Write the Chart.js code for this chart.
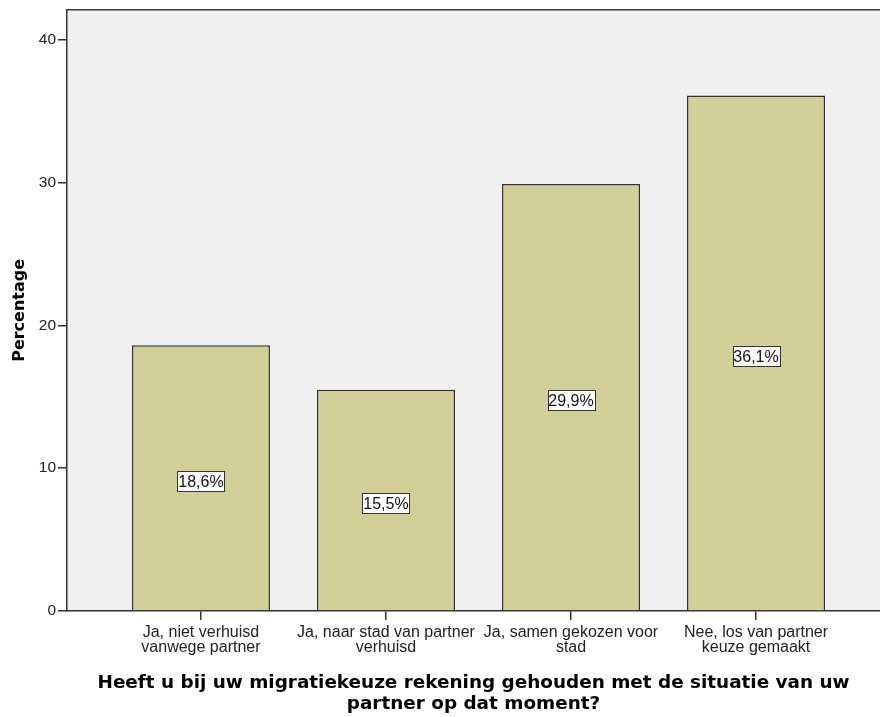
<!DOCTYPE html>
<html>
<head>
<meta charset="utf-8">
<script src="https://cdn.jsdelivr.net/npm/chart.js@4/dist/chart.umd.min.js"></script>
<style>
  html, body { margin: 0; padding: 0; background: #fff; }
  #wrap { width: 880px; height: 717px; }
</style>
</head>
<body>
<div id="wrap"><canvas id="chart"></canvas></div>
<script>
const categories = [
    ['Ja, niet verhuisd', 'vanwege partner'],
    ['Ja, naar stad van partner', 'verhuisd'],
    ['Ja, samen gekozen voor', 'stad'],
    ['Nee, los van partner', 'keuze gemaakt']
];
const percentages = [18.6, 15.5, 29.9, 36.1];
const valueLabels = ['18,6%', '15,5%', '29,9%', '36,1%'];
const yTicks = [0, 10, 20, 30, 40];

// grey plot background + top frame line
const plotBg = {
    id: 'plotBg',
    beforeDraw(chart) {
        const { ctx, chartArea: a } = chart;
        ctx.save();
        ctx.fillStyle = '#f0f0f0';
        ctx.fillRect(a.left, a.top, a.right - a.left, a.bottom - a.top);
        ctx.strokeStyle = '#3a3a3a';
        ctx.lineWidth = 1.5;
        ctx.beginPath();
        ctx.moveTo(a.left, a.top);
        ctx.lineTo(a.right, a.top);
        ctx.stroke();
        ctx.restore();
    }
};

// boxed value labels in the middle of each bar
const boxLabels = {
    id: 'boxLabels',
    afterDatasetsDraw(chart) {
        const { ctx } = chart;
        const meta = chart.getDatasetMeta(0);
        const y = chart.scales.y;
        ctx.save();
        ctx.font = '16px "Liberation Sans", Arial, sans-serif';
        ctx.textAlign = 'center';
        ctx.textBaseline = 'middle';
        meta.data.forEach((bar, i) => {
            const cy = y.getPixelForValue(percentages[i] / 2) + 3;
            const w = Math.round(ctx.measureText(valueLabels[i]).width + 2);
            const h = 20;
            const bx = Math.round(bar.x - w / 2) + 0.5;
            const by = Math.round(cy - h / 2) + 0.5;
            ctx.fillStyle = '#ffffff';
            ctx.fillRect(bx, by, w, h);
            ctx.strokeStyle = '#333333';
            ctx.lineWidth = 1;
            ctx.strokeRect(bx, by, w, h);
            ctx.fillStyle = '#111111';
            ctx.fillText(valueLabels[i], bar.x, cy + 1);
        });
        ctx.restore();
    }
};

new Chart(document.getElementById('chart'), {
    type: 'bar',
    data: {
        datasets: [{
            data: percentages.map((v, i) => ({ x: i, y: v })),
            backgroundColor: '#d3ce97',
            borderColor: '#333333',
            borderWidth: 1.5,
            barPercentage: 0.746,
            categoryPercentage: 1
        }]
    },
    options: {
        responsive: true,
        maintainAspectRatio: false,
        animation: false,
        layout: { padding: { top: 8, right: 0, left: 0, bottom: 0 } },
        plugins: {
            legend: { display: false },
            tooltip: { enabled: false }
        },
        scales: {
            x: {
                type: 'linear',
                min: -0.724,
                max: 3.67,
                offset: false,
                afterFit(scale) { scale.height = 106; },
                afterBuildTicks(scale) {
                    scale.ticks = categories.map((c, i) => ({ value: i }));
                },
                border: { display: true, color: '#333333', width: 1.5 },
                grid: { offset: false, drawOnChartArea: false, drawTicks: true, tickLength: 9, color: '#333333', lineWidth: 1.5 },
                ticks: {
                    padding: 5,
                    color: '#222222',
                    font: { family: '"Liberation Sans", Arial, sans-serif', size: 16, lineHeight: '15px' },
                    maxRotation: 0,
                    autoSkip: false,
                    callback: (v) => categories[v]
                },
                title: {
                    display: true,
                    text: ['Heeft u bij uw migratiekeuze rekening gehouden met de situatie van uw', 'partner op dat moment?'],
                    color: '#000000',
                    font: { family: '"DejaVu Sans", Verdana, sans-serif', size: 18.4, weight: 'bold', lineHeight: '21px' },
                    padding: { top: 0, bottom: 2.5 }
                }
            },
            y: {
                min: 0,
                max: 42.1,
                afterFit(scale) { scale.width = 67; },
                afterBuildTicks(scale) {
                    scale.ticks = yTicks.map(v => ({ value: v }));
                },
                border: { display: true, color: '#333333', width: 1.5 },
                grid: { drawOnChartArea: false, drawTicks: true, tickLength: 9, color: '#333333', lineWidth: 1.5 },
                ticks: {
                    padding: 2,
                    color: '#222222',
                    font: { family: '"Liberation Sans", Arial, sans-serif', size: 15.5, lineHeight: 1 }
                },
                title: {
                    display: true,
                    text: 'Percentage',
                    color: '#000000',
                    font: { family: '"DejaVu Sans", Verdana, sans-serif', size: 16, weight: 'bold' },
                    padding: { top: 10, bottom: 0 }
                }
            }
        }
    },
    plugins: [plotBg, boxLabels]
});
</script>
</body>
</html>
